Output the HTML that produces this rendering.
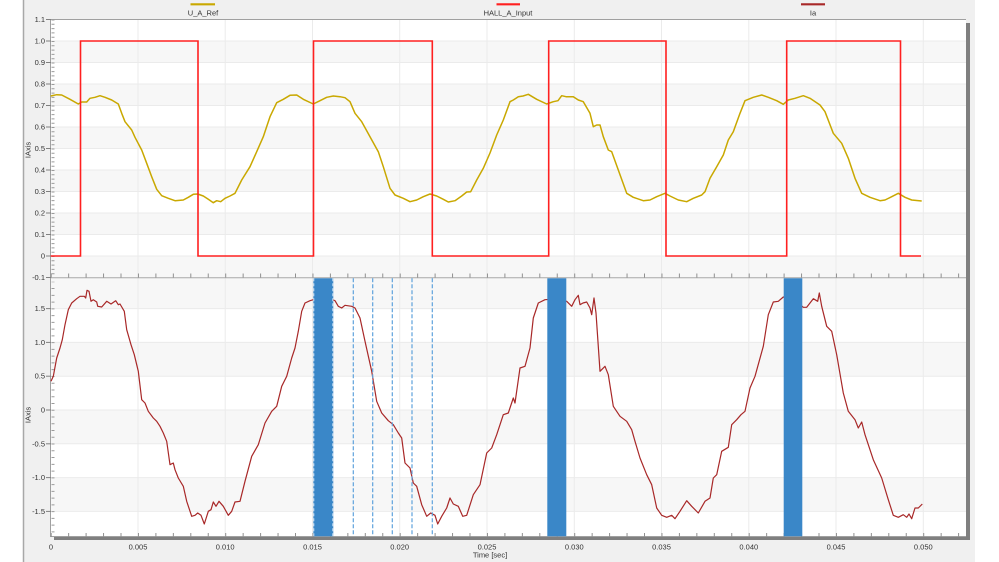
<!DOCTYPE html>
<html><head><meta charset="utf-8"><style>
html,body{margin:0;padding:0;background:#fff;}
svg{display:block;font-family:"Liberation Sans",sans-serif;}
</style></head><body>
<svg width="999" height="562" viewBox="0 0 999 562" xmlns="http://www.w3.org/2000/svg">
<!-- panel -->
<rect x="23" y="0" width="952" height="562" fill="#f0f0f0"/>
<line x1="23.5" y1="0" x2="23.5" y2="562" stroke="#a8a8a8" stroke-width="1.5"/>
<!-- plot background -->
<rect x="50.5" y="19.5" width="915.5" height="517.5" fill="#fff"/>
<!-- top bands -->
<g fill="#f7f7f7">
<rect x="51" y="41" width="915" height="21.5"/>
<rect x="51" y="84" width="915" height="21.5"/>
<rect x="51" y="127" width="915" height="21.5"/>
<rect x="51" y="170" width="915" height="21.5"/>
<rect x="51" y="213" width="915" height="21.5"/>
<rect x="51" y="256" width="915" height="21.5"/>
<rect x="51" y="278" width="915" height="30.6"/>
<rect x="51" y="342.4" width="915" height="33.8"/>
<rect x="51" y="410" width="915" height="33.8"/>
<rect x="51" y="477.6" width="915" height="33.8"/>
</g>
<g stroke="#ebebeb" stroke-width="1">
<line x1="51" y1="41" x2="966" y2="41"/><line x1="51" y1="62.5" x2="966" y2="62.5"/>
<line x1="51" y1="84" x2="966" y2="84"/><line x1="51" y1="105.5" x2="966" y2="105.5"/>
<line x1="51" y1="127" x2="966" y2="127"/><line x1="51" y1="148.5" x2="966" y2="148.5"/>
<line x1="51" y1="170" x2="966" y2="170"/><line x1="51" y1="191.5" x2="966" y2="191.5"/>
<line x1="51" y1="213" x2="966" y2="213"/><line x1="51" y1="234.5" x2="966" y2="234.5"/>
<line x1="51" y1="256" x2="966" y2="256"/>
<line x1="51" y1="308.6" x2="966" y2="308.6"/><line x1="51" y1="342.4" x2="966" y2="342.4"/>
<line x1="51" y1="376.2" x2="966" y2="376.2"/><line x1="51" y1="410" x2="966" y2="410"/>
<line x1="51" y1="443.8" x2="966" y2="443.8"/><line x1="51" y1="477.6" x2="966" y2="477.6"/>
<line x1="51" y1="511.4" x2="966" y2="511.4"/>
<line x1="138" y1="20" x2="138" y2="537"/><line x1="225.2" y1="20" x2="225.2" y2="537"/>
<line x1="312.5" y1="20" x2="312.5" y2="537"/><line x1="399.7" y1="20" x2="399.7" y2="537"/>
<line x1="487" y1="20" x2="487" y2="537"/><line x1="574.3" y1="20" x2="574.3" y2="537"/>
<line x1="661.5" y1="20" x2="661.5" y2="537"/><line x1="748.8" y1="20" x2="748.8" y2="537"/>
<line x1="836" y1="20" x2="836" y2="537"/><line x1="923.3" y1="20" x2="923.3" y2="537"/>
</g>
<!-- borders / shadows -->
<line x1="50.5" y1="19.5" x2="966" y2="19.5" stroke="#a0a0a0" stroke-width="1"/>
<line x1="50.5" y1="19.5" x2="50.5" y2="537" stroke="#a0a0a0" stroke-width="1"/>
<line x1="50.5" y1="277.7" x2="966" y2="277.7" stroke="#a8a8a8" stroke-width="1"/>
<line x1="50.5" y1="536.5" x2="966" y2="536.5" stroke="#a0a0a0" stroke-width="1"/>
<rect x="966" y="23" width="4" height="517" fill="#7f7f7f"/>
<rect x="54" y="537" width="916" height="3" fill="#7f7f7f"/>
<!-- x ticks -->
<line x1="50.7" y1="535" x2="966" y2="535" stroke="#909090" stroke-width="4" stroke-dasharray="1,16.45"/>
<line x1="50.7" y1="275.5" x2="966" y2="275.5" stroke="#909090" stroke-width="4" stroke-dasharray="1,16.45"/>
<!-- y ticks -->
<line x1="53" y1="19.5" x2="53" y2="277.5" stroke="#9a9a9a" stroke-width="3" stroke-dasharray="1,3.3"/>
<line x1="53" y1="281.8" x2="53" y2="536" stroke="#9a9a9a" stroke-width="3" stroke-dasharray="1,5.76" stroke-dashoffset="0.5"/>
<g stroke="#808080" stroke-width="1">
<line x1="46" y1="19.5" x2="51" y2="19.5"/><line x1="46" y1="41" x2="51" y2="41"/><line x1="46" y1="62.5" x2="51" y2="62.5"/>
<line x1="46" y1="84" x2="51" y2="84"/><line x1="46" y1="105.5" x2="51" y2="105.5"/><line x1="46" y1="127" x2="51" y2="127"/>
<line x1="46" y1="148.5" x2="51" y2="148.5"/><line x1="46" y1="170" x2="51" y2="170"/><line x1="46" y1="191.5" x2="51" y2="191.5"/>
<line x1="46" y1="213" x2="51" y2="213"/><line x1="46" y1="234.5" x2="51" y2="234.5"/><line x1="46" y1="256" x2="51" y2="256"/>
<line x1="46" y1="277.5" x2="51" y2="277.5"/>
<line x1="46" y1="308.6" x2="51" y2="308.6"/><line x1="46" y1="342.4" x2="51" y2="342.4"/><line x1="46" y1="376.2" x2="51" y2="376.2"/>
<line x1="46" y1="410" x2="51" y2="410"/><line x1="46" y1="443.8" x2="51" y2="443.8"/><line x1="46" y1="477.6" x2="51" y2="477.6"/>
<line x1="46" y1="511.4" x2="51" y2="511.4"/>
</g>
<!-- y labels -->
<g font-size="7.5" fill="#333" text-anchor="end">
<text x="45" y="22">1.1</text><text x="45" y="43.5">1.0</text><text x="45" y="65">0.9</text>
<text x="45" y="86.5">0.8</text><text x="45" y="108">0.7</text><text x="45" y="129.5">0.6</text>
<text x="45" y="151">0.5</text><text x="45" y="172.5">0.4</text><text x="45" y="194">0.3</text>
<text x="45" y="215.5">0.2</text><text x="45" y="237">0.1</text><text x="45" y="258.5">0</text>
<text x="45" y="280">-0.1</text>
<text x="45" y="311.1">1.5</text><text x="45" y="344.9">1.0</text><text x="45" y="378.7">0.5</text>
<text x="45" y="412.5">0</text><text x="45" y="446.3">-0.5</text><text x="45" y="480.1">-1.0</text>
<text x="45" y="513.9">-1.5</text>
</g>
<g font-size="7.5" fill="#333" text-anchor="middle">
<text x="28" y="150" transform="rotate(-90 28 150)" dy="2.5">IAxis</text>
<text x="28" y="415" transform="rotate(-90 28 415)" dy="2.5">IAxis</text>
<text x="51" y="549.5">0</text><text x="138" y="549.5">0.005</text><text x="225.2" y="549.5">0.010</text>
<text x="312.5" y="549.5">0.015</text><text x="399.7" y="549.5">0.020</text><text x="487" y="549.5">0.025</text>
<text x="574.3" y="549.5">0.030</text><text x="661.5" y="549.5">0.035</text><text x="748.8" y="549.5">0.040</text>
<text x="836" y="549.5">0.045</text><text x="923.3" y="549.5">0.050</text>
<text x="490" y="557.5">Time [sec]</text>
<text x="203" y="15.5">U_A_Ref</text>
<text x="508" y="15.5">HALL_A_Input</text>
<text x="813" y="15.5">Ia</text>
</g>
<!-- legend lines -->
<line x1="190.5" y1="4.3" x2="215" y2="4.3" stroke="#c9a800" stroke-width="2.2"/>
<line x1="496.5" y1="4.3" x2="520" y2="4.3" stroke="#ff2020" stroke-width="2.2"/>
<line x1="801" y1="4.3" x2="825" y2="4.3" stroke="#a82828" stroke-width="2.2"/>
<!-- series top -->
<polyline fill="none" stroke="#c9a800" stroke-width="1.5" stroke-linejoin="round" points="50.7,96 56.7,94.7 61.7,95 70,99.3 78.3,104 81.7,102 86.7,102 90,98.3 95,97.3 100,95.7 105,97.3 111.7,100 118.3,104 121.7,113.3 125,121.7 131.7,130 135,137.3 141.7,150 146.7,163.3 151.7,176.7 156.7,189.3 161.7,195.7 168.3,198.3 175,200.7 183.3,200 188.3,197.3 193.3,194.3 197.7,194 203.3,196 208.3,199.3 213.3,202.7 216.7,200.7 220.7,201.7 225,198.3 230,196 235,193.3 241.7,180 250,166.7 256.7,151.7 263.3,136.7 270,116.7 276.7,102.7 283.3,99.3 290,95.3 296.7,95 303.3,99.3 313.3,104 320,100.7 326.7,97.3 333.3,96 340,96.7 345,97.7 350,101.7 355,113.3 361.7,121.7 370,136.7 378.3,151.7 383.3,166.7 390,188.3 395,195 403.3,198.3 410,201.7 416.7,200 423.3,196.7 430,194 436.7,196 443.3,199.3 448.3,202 455,200.7 461.7,196 466.7,192 470.7,191.7 476.7,180 483.3,168.3 490,153 496.7,135 503.3,120 510,101.7 513.3,100 518.3,96.7 523,96 528.3,94.3 536.7,99.3 546.7,104 553.3,101.7 558,100.7 561.7,95.7 566,96.7 573.3,96.7 578.3,100 583.3,101.7 590,113.3 593.3,126.7 596.7,125 600,125 603.3,136.7 608.3,150 611.7,151.7 618.3,170 626.7,193.3 633.3,197.3 643.3,200.7 650,200 656.7,196.7 665,193.3 670,196 678.3,200 686.7,201.7 693.3,198.3 701.7,195 705,191.7 710,178.3 716.7,166.7 723.3,155 728.3,140 733.3,131.7 740,113.3 745,100.7 753.3,97.3 761.7,95 768.3,97.3 776.7,100.7 783.3,104.3 788.3,100 795,98.3 803.3,95.7 810,98.3 820,105 825,111.7 833.3,133.3 841.7,143.3 848.3,158.3 855,178.3 861.7,193.3 870,197.3 880,200.7 885,200 891.7,196.7 898.3,193.3 905,197.3 911.7,200 921.7,201"/>
<path fill="none" stroke="#ff2020" stroke-width="1.6" d="M50.7,256 H80.5 V41 H198 V256 H313.5 V41 H432.3 V256 H548.7 V41 H666 V256 H786.7 V41 H900.5 V256 H921"/>
<!-- Ia -->
<polyline fill="none" stroke="#a82828" stroke-width="1.2" stroke-linejoin="round" points="51,381.3 53.3,376.3 56.7,358 60,348 62.3,339.7 65,324.7 68.3,309.7 71.7,303 76.7,298.7 80,296.3 84.3,296.3 85.7,298 87,290.3 89,291.3 91,301.3 93.3,299.7 96.7,302 97.7,306.3 101.7,307 106.7,301.3 111,304 115.7,300.7 118.3,304.7 120,304 124.3,311.3 126.7,329.7 131,344.7 134.3,354.7 138.3,371.3 141.7,399.7 145,403 148.3,411.3 153.3,418 156.7,421.3 160,426.3 163.3,433 166.7,441.3 170,464.7 173.3,463 175,469.7 178.3,478 183.3,486.3 186.7,501.3 191.7,516.3 195,515.3 197.7,513 201,515.3 204.3,524 208.3,511.3 211,509.7 213.3,502 216,506.3 219,501.3 223.3,506.3 228.3,515.3 231.7,511.3 235,502 240,501.3 245,481.3 251.7,456.3 258.3,444.7 265,423 271.7,411.3 276.7,406.3 281.7,386.3 286.7,376.3 291.7,358 295,348 298.3,331.3 301.7,311.3 305,303 310,300.7 313.3,299.7 323,296 335,300.7 338.3,306.3 341.7,308 345,305.3 351.7,306.3 355,308 360,318 365,341.3 371.7,371.3 376.7,401.3 381.7,413 388.3,420.7 393.3,424.7 398.3,433 401.7,438 405,463 410,468 413.3,483 416.7,486.3 421.7,504.7 426.7,516.3 430.7,513 435,515.3 437.7,524 441.7,516.3 446.7,508 450,498 453.3,504 458.3,506.3 462.7,516.3 466.7,515.3 473.3,494.7 480,484.7 486.7,453 491.7,448 496.7,434.7 503.3,414.7 508.3,413 513.3,398 515,403 520,368 525,366.3 530,348 533.3,318 538.3,303 545,299.7 556,299 566.7,301.3 571.7,306.3 575,299.7 578.3,295.3 580,304.7 583,303 586.7,302 590,308 591.7,314.7 594,298 596,313 600,371.3 605,366.3 608.3,374.7 613.3,406.3 620,416.3 626.7,421.3 631.7,429.7 635,441.3 640,458 646.7,474.7 651.7,484.7 656.7,508 661.7,515.3 666.7,517.3 671.7,515.3 675,518.7 680,511.3 686.7,500.7 691.7,506.3 698.3,513 705,501.3 710,498 713.3,478 716.7,474.7 721.7,451.3 728.3,447.3 731.7,424.7 736.7,419.7 741,414.7 745,411.3 750,388 755,376.3 763.3,346.3 768.3,314.7 773.3,302 778.3,301.3 783.3,297 795,300 803.3,307.3 806.7,307.3 813.3,298.7 817.7,301.3 819.3,293 821.7,306.3 826.7,326.3 831.7,331.3 836.7,354.7 843.3,393 848.3,411.3 855,419.7 858.3,428 861.7,422 865,434.7 873.3,459.7 881.7,478 888.3,499.7 893.3,515.3 898.3,517.3 903.3,514.7 906.7,517.3 909,514 911.7,518.7 915,508 918.3,508 922.3,504"/>
<!-- blue markers -->
<g fill="#3a87c8">
<rect x="313.3" y="278.3" width="20" height="258"/>
<rect x="547.3" y="278.3" width="19" height="258"/>
<rect x="783.7" y="278.3" width="18.6" height="258"/>
</g>
<g stroke="#cfe3f5" stroke-width="1" stroke-dasharray="3,2">
<line x1="313.8" y1="278.3" x2="313.8" y2="536"/>
<line x1="332.8" y1="278.3" x2="332.8" y2="536"/>
</g>
<g stroke="#5fa2dc" stroke-width="1.2" stroke-dasharray="4,2">
<line x1="353.3" y1="278.3" x2="353.3" y2="536"/>
<line x1="372.7" y1="278.3" x2="372.7" y2="536"/>
<line x1="392.3" y1="278.3" x2="392.3" y2="536"/>
<line x1="412" y1="278.3" x2="412" y2="536"/>
<line x1="432.3" y1="278.3" x2="432.3" y2="536"/>
</g>
</svg>
</body></html>
